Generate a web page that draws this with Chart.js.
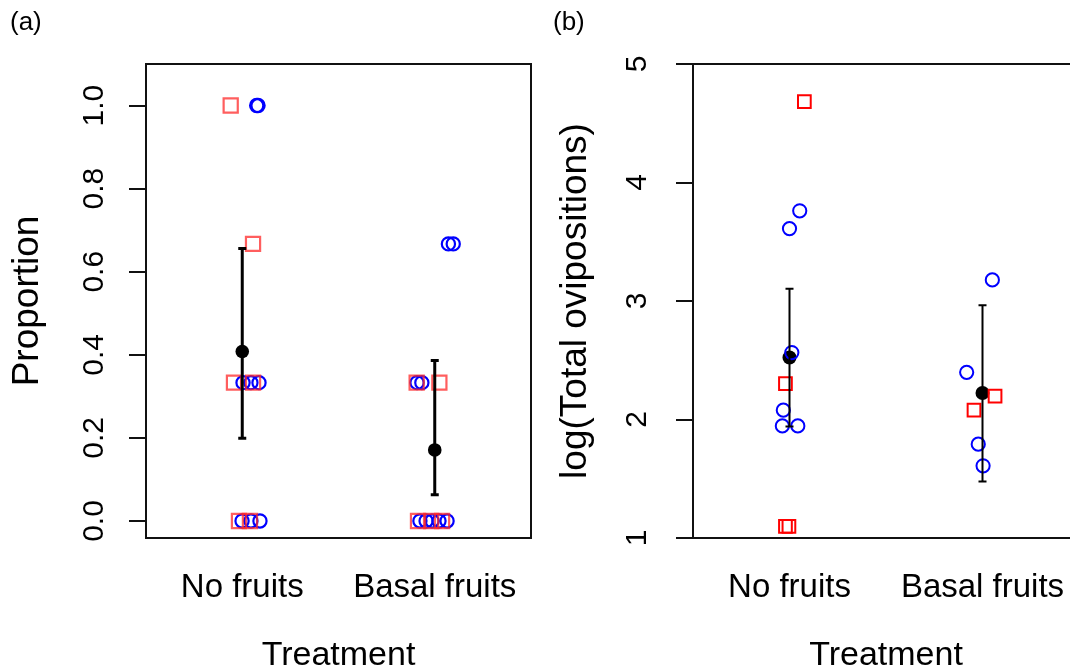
<!DOCTYPE html>
<html>
<head>
<meta charset="utf-8">
<script src="https://cdn.jsdelivr.net/npm/chart.js@4.4.1/dist/chart.umd.min.js"></script>
<style>
  html, body { margin: 0; padding: 0; background: #fff; overflow: hidden; }
  body { width: 1070px; height: 671px; position: relative; }
  .panel { position: absolute; top: 0; width: 545px; height: 671px; }
  #wrapA { left: 0; }
  #wrapB { left: 545px; }
</style>
</head>
<body>
<div class="panel" id="wrapA"><canvas id="chartA" width="545" height="671"></canvas></div>
<div class="panel" id="wrapB"><canvas id="chartB" width="545" height="671"></canvas></div>
<script>
const treatments = ['No fruits', 'Basal fruits'];
const groupPos = [1, 2];

// (a) proportion, jittered around each treatment
const propTicks = [0, 0.2, 0.4, 0.6, 0.8, 1.0];
const propRedX = [0.94, 1.056, 0.957, 1.056, 0.983, 1.040, 1.906, 2.024, 1.913, 1.981, 2.038];
const propRedY = [1.0, 0.667, 0.333, 0.333, 0, 0, 0.333, 0.333, 0, 0, 0];
const propBlueX = [1.075, 1.082, 1.004, 1.045, 1.087, 0.999, 1.045, 1.092, 2.071, 2.096, 1.908, 1.933, 1.923, 1.955, 1.986, 2.022, 2.064];
const propBlueY = [1.0, 1.0, 0.333, 0.333, 0.333, 0, 0, 0, 0.667, 0.667, 0.333, 0.333, 0, 0, 0, 0, 0];
const propMean = [0.408, 0.171];
const propLow = [0.199, 0.063];
const propHigh = [0.656, 0.386];

// (b) log of total ovipositions
const ovTicks = [1, 2, 3, 4, 5];
const ovRedX = [1.077, 0.979, 0.979, 0.997, 2.065, 1.956];
const ovRedY = [4.682, 2.303, 1.099, 1.099, 2.197, 2.079];
const ovBlueX = [1.053, 1.0, 1.012, 0.968, 0.963, 1.043, 2.051, 1.918, 1.978, 2.003];
const ovBlueY = [3.761, 3.611, 2.565, 2.079, 1.946, 1.946, 3.178, 2.398, 1.792, 1.609];
const ovMean = [2.523, 2.224];
const ovLow = [1.941, 1.476];
const ovHigh = [3.103, 2.965];

const FONT = "'Liberation Sans', Arial, Helvetica, sans-serif";

function pts(xs, ys) {
  return xs.map((x, i) => ({ x: x, y: ys[i] }));
}

// box around the plotting region
const plotBox = {
  id: 'plotBox',
  afterDraw(chart) {
    const a = chart.chartArea, ctx = chart.ctx;
    ctx.save();
    ctx.strokeStyle = '#111';
    ctx.lineWidth = 2;
    ctx.strokeRect(a.left, a.top, a.right - a.left, a.bottom - a.top);
    ctx.restore();
  }
};

// vertical interval lines with small caps, on the chart scales
const errorBars = {
  id: 'errorBars',
  afterDatasetsDraw(chart, args, opts) {
    const xs = chart.scales.x, ys = chart.scales.y, ctx = chart.ctx;
    ctx.save();
    ctx.strokeStyle = '#000';
    ctx.lineWidth = opts.lineWidth;
    opts.x.forEach((xv, i) => {
      const px = xs.getPixelForValue(xv);
      const lo = ys.getPixelForValue(opts.low[i]);
      const hi = ys.getPixelForValue(opts.high[i]);
      ctx.beginPath();
      ctx.moveTo(px, lo); ctx.lineTo(px, hi);
      ctx.moveTo(px - opts.cap, lo); ctx.lineTo(px + opts.cap, lo);
      ctx.moveTo(px - opts.cap, hi); ctx.lineTo(px + opts.cap, hi);
      ctx.stroke();
    });
    ctx.restore();
  }
};

const panelTag = {
  id: 'panelTag',
  afterDraw(chart, args, opts) {
    const ctx = chart.ctx;
    ctx.save();
    ctx.fillStyle = '#000';
    ctx.font = '26px ' + FONT;
    ctx.textBaseline = 'top';
    ctx.fillText(opts.text, opts.x, opts.y);
    ctx.restore();
  }
};

function makePanel(id, cfg) {
  return new Chart(document.getElementById(id), {
    type: 'scatter',
    data: {
      datasets: [
        {
          data: pts(cfg.redX, cfg.redY),
          pointStyle: 'rect',
          pointRadius: cfg.sqRadius,
          pointBorderWidth: cfg.markWidth,
          borderColor: cfg.red,
          backgroundColor: 'rgba(0,0,0,0)'
        },
        {
          data: pts(cfg.blueX, cfg.blueY),
          pointStyle: 'circle',
          pointRadius: cfg.cirRadius,
          pointBorderWidth: cfg.markWidth,
          borderColor: '#0000ff',
          backgroundColor: 'rgba(0,0,0,0)'
        },
        {
          data: pts(groupPos, cfg.mean),
          pointStyle: 'circle',
          pointRadius: cfg.meanRadius,
          pointBorderWidth: 0,
          borderColor: '#000',
          backgroundColor: '#000'
        }
      ]
    },
    options: {
      responsive: false,
      animation: false,
      events: [],
      layout: { padding: { left: 0, right: cfg.padRight, top: 64, bottom: 0 } },
      plugins: {
        legend: { display: false },
        tooltip: { enabled: false },
        errorBars: { x: groupPos, low: cfg.low, high: cfg.high, lineWidth: cfg.barWidth, cap: 4 },
        panelTag: { text: cfg.tag, x: cfg.tagX, y: 10 }
      },
      scales: {
        x: {
          type: 'linear',
          min: 0.5,
          max: 2.5,
          afterBuildTicks: s => { s.ticks = groupPos.map(v => ({ value: v })); },
          // keep the wide tick labels from squeezing the plot area
          afterFit: s => { s.height = 133; s.paddingLeft = 0; s.paddingRight = 0; },
          grid: { display: false, drawTicks: false },
          border: { display: false },
          ticks: {
            padding: 30,
            color: '#000',
            font: { family: FONT, size: 33 },
            callback: v => treatments[groupPos.indexOf(v)]
          },
          title: {
            display: true,
            text: 'Treatment',
            color: '#000',
            font: { family: FONT, size: 34, lineHeight: 0.88 },
            padding: { top: 0, bottom: 0 }
          }
        },
        y: {
          type: 'linear',
          min: cfg.yMin,
          max: cfg.yMax,
          afterBuildTicks: s => { s.ticks = cfg.yTicks.map(v => ({ value: v })); },
          afterFit: s => { s.width = cfg.axisWidth; s.paddingTop = 0; s.paddingBottom = 0; },
          grid: { drawOnChartArea: false, tickLength: 17, color: '#111', lineWidth: 2 },
          border: { display: false },
          ticks: {
            minRotation: 90,
            maxRotation: 90,
            crossAlign: 'center',
            padding: cfg.tickPad,
            color: '#000',
            font: { family: FONT, size: 30 },
            callback: cfg.fmt
          },
          title: {
            display: true,
            text: cfg.yTitle,
            color: '#000',
            font: { family: FONT, size: 37, lineHeight: 1 },
            padding: { top: cfg.titlePad, bottom: 0 }
          }
        }
      }
    },
    plugins: [plotBox, errorBars, panelTag]
  });
}

makePanel('chartA', {
  redX: propRedX, redY: propRedY, blueX: propBlueX, blueY: propBlueY,
  mean: propMean, low: propLow, high: propHigh,
  red: 'rgba(255,40,40,0.75)', sqRadius: 10, cirRadius: 6.6, meanRadius: 6.8,
  markWidth: 2.2, barWidth: 3,
  yMin: -0.041, yMax: 1.10, yTicks: propTicks, fmt: v => v.toFixed(1),
  yTitle: 'Proportion', axisWidth: 146, tickPad: 13, titlePad: 9,
  padRight: 14, tag: '(a)', tagX: 10
});

makePanel('chartB', {
  redX: ovRedX, redY: ovRedY, blueX: ovBlueX, blueY: ovBlueY,
  mean: ovMean, low: ovLow, high: ovHigh,
  red: '#ff0000', sqRadius: 9, cirRadius: 6.6, meanRadius: 7,
  markWidth: 2, barWidth: 2,
  yMin: 1, yMax: 5, yTicks: ovTicks, fmt: v => String(v),
  yTitle: 'log(Total ovipositions)', axisWidth: 148, tickPad: 30, titlePad: 12,
  padRight: 9, tag: '(b)', tagX: 8
});
</script>
</body>
</html>
